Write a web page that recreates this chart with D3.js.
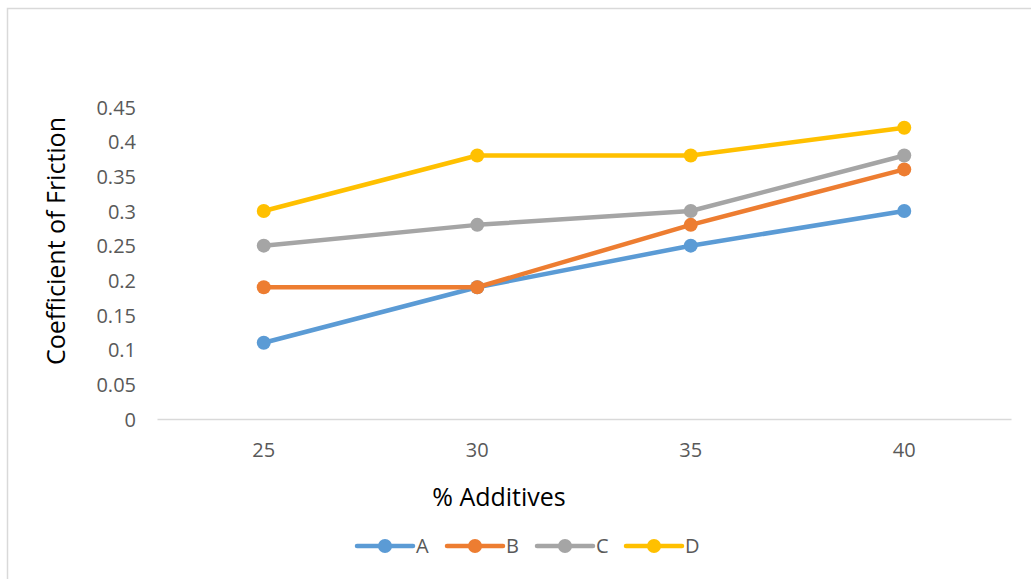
<!DOCTYPE html>
<html>
<head>
<meta charset="utf-8">
<script src="https://cdn.jsdelivr.net/npm/d3@7"></script>
<style>
  html, body { margin: 0; padding: 0; background: #fff; }
  svg { display: block; font-family: "Open Sans", "Noto Sans", sans-serif; }
</style>
</head>
<body>
<svg id="chart" width="1031" height="579"></svg>
<script>
// Friction coefficient by additive percentage
const categories = ["25", "30", "35", "40"];
const seriesNames = ["A", "B", "C", "D"];
const seriesA = [0.11, 0.19, 0.25, 0.30];
const seriesB = [0.19, 0.19, 0.28, 0.36];
const seriesC = [0.25, 0.28, 0.30, 0.38];
const seriesD = [0.30, 0.38, 0.38, 0.42];
const yTicks = [0, 0.05, 0.1, 0.15, 0.2, 0.25, 0.3, 0.35, 0.4, 0.45];
const colors = ["#5b9bd5", "#ed7d31", "#a5a5a5", "#ffc000"];

const series = [seriesA, seriesB, seriesC, seriesD].map((vals, i) => ({
  name: seriesNames[i], values: vals, color: colors[i]
}));

const svg = d3.select("#chart");

// outer chart frame
svg.append("rect")
  .attr("x", 7.5).attr("y", 8.5)
  .attr("width", 1100).attr("height", 700)
  .attr("fill", "#fff").attr("stroke", "#d9d9d9").attr("stroke-width", 1.5);

const plot = { left: 157, right: 1011, top: 107, bottom: 419 };

const x = d3.scaleBand().domain(categories).range([plot.left, plot.right]);
const y = d3.scaleLinear().domain([0, 0.45]).range([plot.bottom, plot.top]);

// y axis labels
const yAxis = d3.axisLeft(y).tickValues(yTicks).tickSize(0).tickPadding(0)
  .tickFormat(d => String(+d.toFixed(2)));
const gy = svg.append("g").attr("transform", `translate(${136},0)`).call(yAxis);
gy.attr("font-size", null).attr("font-family", null);
gy.select(".domain").remove();
gy.selectAll("text").attr("fill", "#595959").style("font-size", "20px")
  .attr("dy", "0.35em");

// x axis
const xAxis = d3.axisBottom(x).tickSize(0).tickPadding(0);
const gx = svg.append("g").attr("transform", `translate(0,${plot.bottom})`).call(xAxis);
gx.attr("font-size", null).attr("font-family", null);
gx.select(".domain").attr("stroke", "#d9d9d9").attr("stroke-width", 1.5);
gx.selectAll("text").attr("fill", "#595959").style("font-size", "20px")
  .attr("y", 38).attr("dy", 0);

// axis titles
svg.append("text")
  .attr("transform", `translate(65,${241}) rotate(-90)`)
  .attr("text-anchor", "middle")
  .attr("fill", "#000").style("font-size", "25px")
  .text("Coefficient of Friction");

svg.append("text")
  .attr("x", 499).attr("y", 506)
  .attr("text-anchor", "middle")
  .attr("fill", "#000").style("font-size", "25px")
  .text("% Additives");

// lines and markers
const line = d3.line()
  .x((d, i) => x(categories[i]) + x.bandwidth() / 2)
  .y(d => y(d));

const gs = svg.append("g").selectAll("g").data(series).join("g");
gs.append("path")
  .attr("d", d => line(d.values))
  .attr("fill", "none")
  .attr("stroke", d => d.color)
  .attr("stroke-width", 4.5)
  .attr("stroke-linejoin", "round")
  .attr("stroke-linecap", "round");
gs.each(function(s) {
  d3.select(this).selectAll("circle").data(s.values).join("circle")
    .attr("cx", (d, i) => x(categories[i]) + x.bandwidth() / 2)
    .attr("cy", d => y(d))
    .attr("r", 7)
    .attr("fill", s.color);
});

// legend
const legendX = [357, 447, 537, 626];
const lg = svg.append("g").selectAll("g").data(series).join("g")
  .attr("transform", (d, i) => `translate(${legendX[i]},546)`);
lg.append("line")
  .attr("x1", 0).attr("x2", 56).attr("y1", 0).attr("y2", 0)
  .attr("stroke", d => d.color).attr("stroke-width", 4.5)
  .attr("stroke-linecap", "round");
lg.append("circle").attr("cx", 28).attr("cy", 0).attr("r", 7)
  .attr("fill", d => d.color);
lg.append("text")
  .attr("x", 59).attr("y", 0).attr("dy", "0.35em")
  .attr("fill", "#595959").style("font-size", "20px")
  .text(d => d.name);
</script>
</body>
</html>
